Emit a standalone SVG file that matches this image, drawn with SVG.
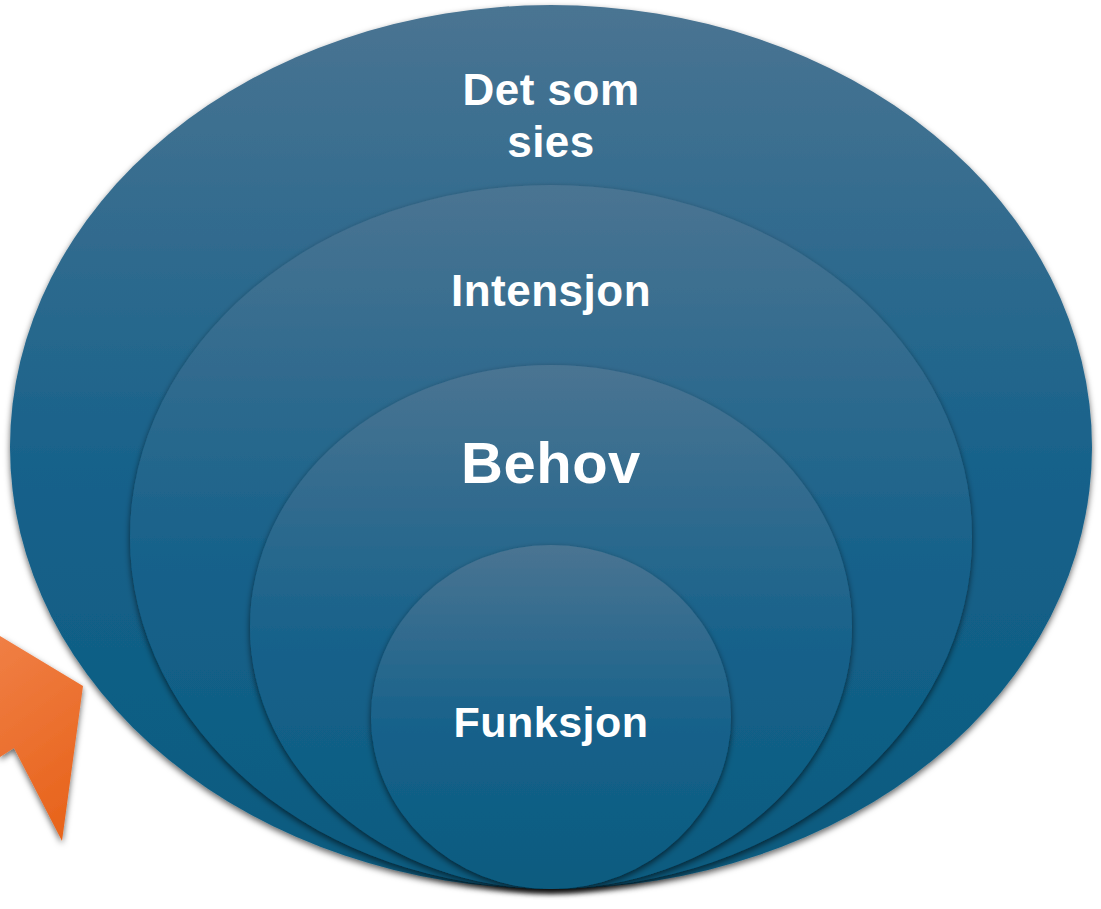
<svg xmlns="http://www.w3.org/2000/svg" width="1101" height="909" viewBox="0 0 1101 909">
<defs>
<linearGradient id="blue" x1="0" y1="0" x2="0" y2="1">
<stop offset="0" stop-color="#4a7492"/>
<stop offset="0.55" stop-color="#15618a"/>
<stop offset="1" stop-color="#0b5b7f"/>
</linearGradient>
<linearGradient id="orange" x1="0" y1="0" x2="0.3" y2="1">
<stop offset="0" stop-color="#f07f45"/>
<stop offset="1" stop-color="#e8651e"/>
</linearGradient>
<filter id="sh" x="-10%" y="-10%" width="120%" height="125%">
<feDropShadow dx="0" dy="3" stdDeviation="3" flood-color="#000" flood-opacity="0.6"/>
</filter>
<style>
.ring{fill:url(#blue);filter:url(#sh)}
.lbl{font-family:"Liberation Sans",Arial,sans-serif;font-weight:bold;fill:#fff;text-anchor:middle;letter-spacing:0.5px}
</style>
</defs>
<g id="arrow"><polygon points="0,636 83,686 62,841 14,748 0,757" fill="url(#orange)" filter="url(#sh)"/></g>
<g id="outer"><ellipse class="ring" cx="551" cy="447" rx="541" ry="442"/>
<text class="lbl" x="551" y="105" font-size="44">Det som</text>
<text class="lbl" x="551" y="157" font-size="44">sies</text></g>
<g id="intensjon"><ellipse class="ring" cx="551" cy="537" rx="421" ry="352"/>
<text class="lbl" x="551" y="306" font-size="44">Intensjon</text></g>
<g id="behov"><ellipse class="ring" cx="551" cy="627" rx="301" ry="262"/>
<text class="lbl" x="551" y="483" font-size="58">Behov</text></g>
<g id="funksjon"><ellipse class="ring" cx="551" cy="717" rx="180" ry="172"/>
<text class="lbl" x="551" y="737" font-size="43">Funksjon</text></g>
<g id="connectors"/>
</svg>
